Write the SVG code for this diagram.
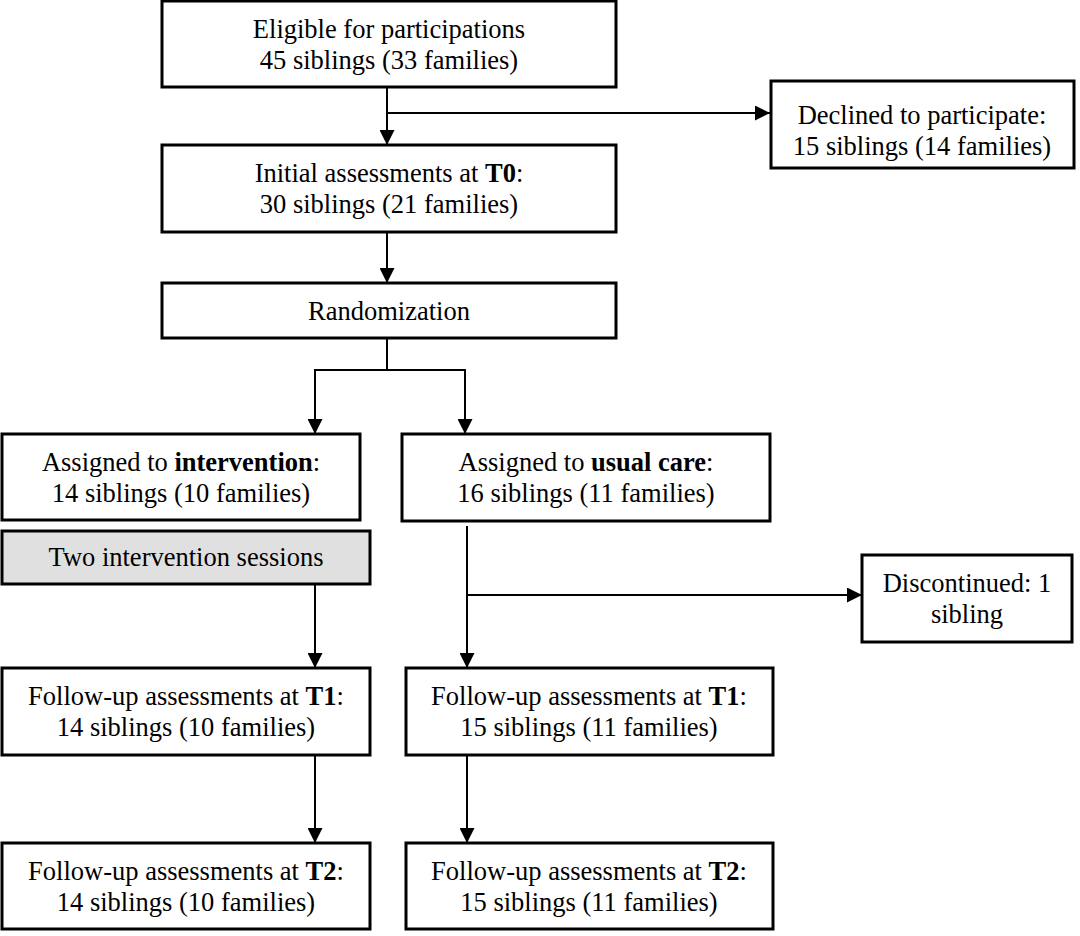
<svg xmlns="http://www.w3.org/2000/svg" width="1080" height="936" viewBox="0 0 1080 936">
<defs>
<style>
.box{fill:#fff;stroke:#000;stroke-width:3}
.gray{fill:#e0e0e0}
.t{font-family:'Liberation Serif','DejaVu Serif',serif;font-size:26.5px;fill:#000;text-anchor:middle}
.b{font-weight:bold}
.ln{fill:none;stroke:#000;stroke-width:2}
</style>
<marker id="ah" viewBox="0 0 15 15" refX="15" refY="7.5" markerWidth="15" markerHeight="15" markerUnits="userSpaceOnUse" orient="auto">
<path d="M0,0 L15,7.5 L0,15 z" fill="#000"/>
</marker>
</defs>
<rect width="1080" height="936" fill="#fff"/>
<g id="connectors">
<path class="ln" d="M387,87 V145" marker-end="url(#ah)"/>
<path class="ln" d="M387,113 H770" marker-end="url(#ah)"/>
<path class="ln" d="M387,232 V283" marker-end="url(#ah)"/>
<path class="ln" d="M387,338 V370 H315 V434" marker-end="url(#ah)"/>
<path class="ln" d="M387,370 H465 V434" marker-end="url(#ah)"/>
<path class="ln" d="M467,526 V668" marker-end="url(#ah)"/>
<path class="ln" d="M467,595 H862" marker-end="url(#ah)"/>
<path class="ln" d="M315,584 V668" marker-end="url(#ah)"/>
<path class="ln" d="M315,755 V843" marker-end="url(#ah)"/>
<path class="ln" d="M467,755 V843" marker-end="url(#ah)"/>
</g>
<g id="eligible">
<rect class="box" x="162" y="1" width="454" height="86"/>
<text class="t" x="389" y="38">Eligible for participations</text>
<text class="t" x="389" y="69">45 siblings (33 families)</text>
</g>
<g id="declined">
<rect class="box" x="771" y="81" width="303" height="87"/>
<text class="t" x="922" y="124">Declined to participate:</text>
<text class="t" x="922" y="155">15 siblings (14 families)</text>
</g>
<g id="initial">
<rect class="box" x="162" y="145" width="454" height="87"/>
<text class="t" x="389" y="182">Initial assessments at <tspan class="b">T0</tspan>:</text>
<text class="t" x="389" y="213">30 siblings (21 families)</text>
</g>
<g id="randomization">
<rect class="box" x="162" y="283" width="454" height="55"/>
<text class="t" x="389" y="320">Randomization</text>
</g>
<g id="intervention">
<rect class="box" x="2" y="434" width="358" height="86"/>
<text class="t" x="181" y="471">Assigned to <tspan class="b">intervention</tspan>:</text>
<text class="t" x="181" y="502">14 siblings (10 families)</text>
</g>
<g id="usualcare">
<rect class="box" x="402" y="434" width="368" height="87"/>
<text class="t" x="586" y="471">Assigned to <tspan class="b">usual care</tspan>:</text>
<text class="t" x="586" y="502">16 siblings (11 families)</text>
</g>
<g id="sessions">
<rect class="box gray" x="2" y="531" width="368" height="53"/>
<text class="t" x="186" y="566">Two intervention sessions</text>
</g>
<g id="discontinued">
<rect class="box" x="862" y="555" width="210" height="87"/>
<text class="t" x="967" y="592">Discontinued: 1</text>
<text class="t" x="967" y="623">sibling</text>
</g>
<g id="t1-intervention">
<rect class="box" x="2" y="668" width="368" height="87"/>
<text class="t" x="186" y="705">Follow-up assessments at <tspan class="b">T1</tspan>:</text>
<text class="t" x="186" y="736">14 siblings (10 families)</text>
</g>
<g id="t1-usual">
<rect class="box" x="406" y="668" width="367" height="87"/>
<text class="t" x="589" y="705">Follow-up assessments at <tspan class="b">T1</tspan>:</text>
<text class="t" x="589" y="736">15 siblings (11 families)</text>
</g>
<g id="t2-intervention">
<rect class="box" x="2" y="843" width="368" height="86"/>
<text class="t" x="186" y="880">Follow-up assessments at <tspan class="b">T2</tspan>:</text>
<text class="t" x="186" y="911">14 siblings (10 families)</text>
</g>
<g id="t2-usual">
<rect class="box" x="406" y="843" width="367" height="86"/>
<text class="t" x="589" y="880">Follow-up assessments at <tspan class="b">T2</tspan>:</text>
<text class="t" x="589" y="911">15 siblings (11 families)</text>
</g>
</svg>
